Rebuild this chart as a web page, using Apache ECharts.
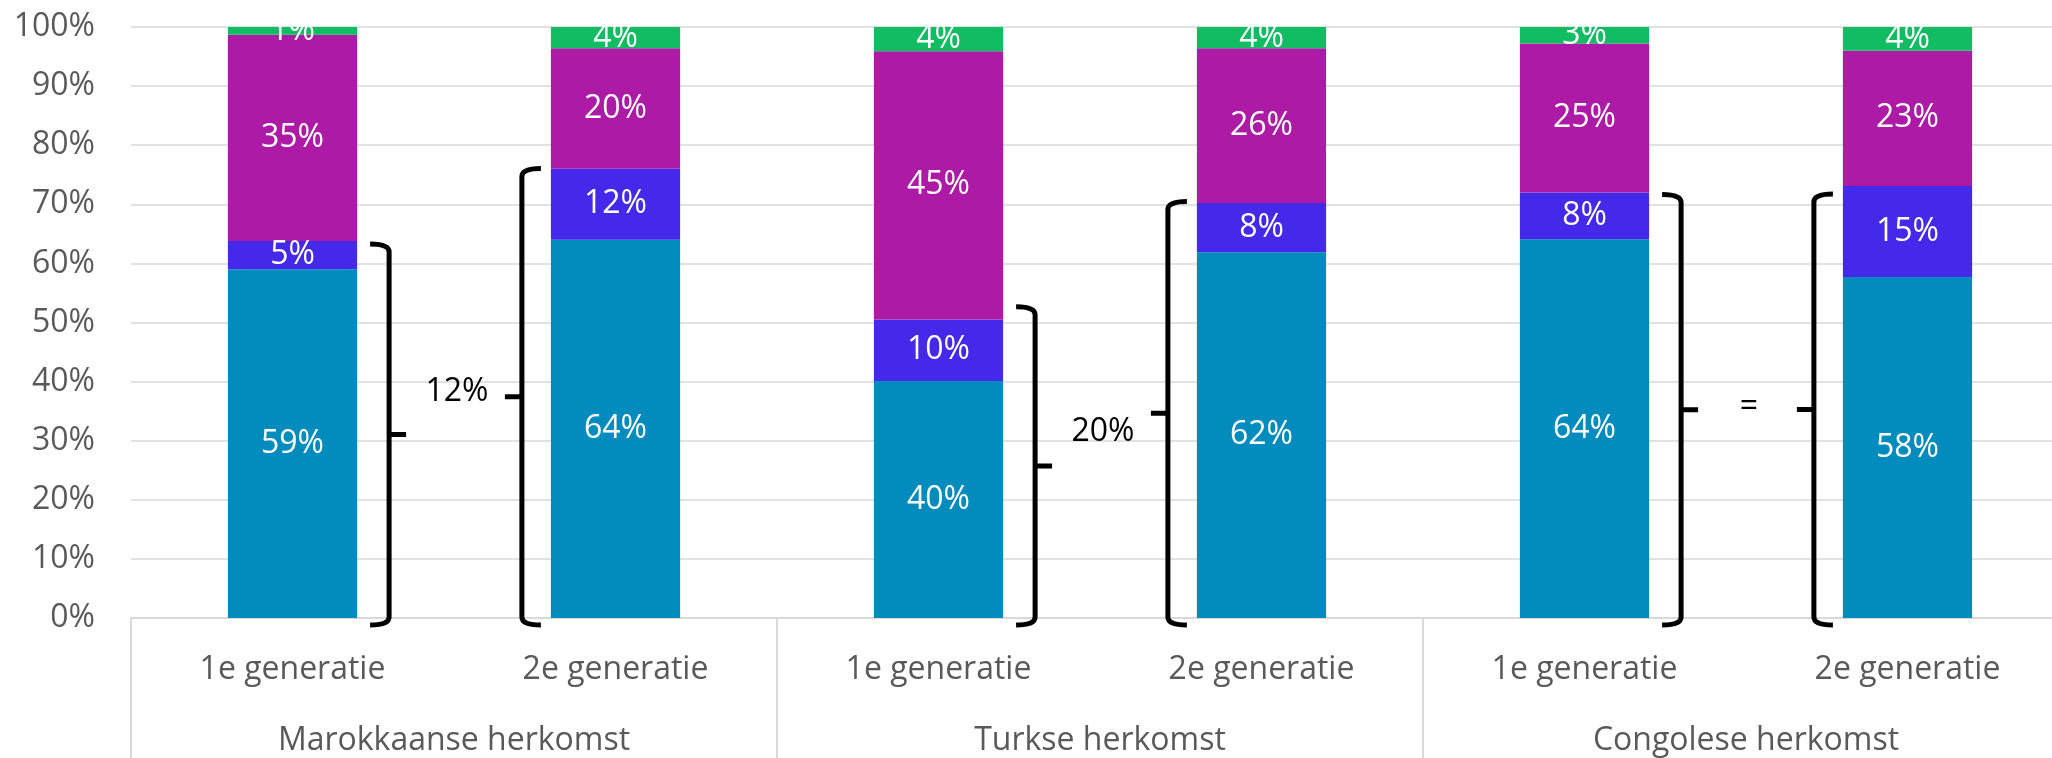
<!DOCTYPE html>
<html>
<head>
<meta charset="utf-8">
<title>Herkomst en generatie</title>
<script src="https://cdn.jsdelivr.net/npm/echarts@6/dist/echarts.min.js"></script>
<style>
  html, body { margin: 0; padding: 0; background: #fff; }
  #chart { width: 2052px; height: 758px; }
</style>
</head>
<body>
<div id="chart"></div>
<script>
// categories
var generaties = ['1e generatie', '2e generatie', '1e generatie', '2e generatie', '1e generatie', '2e generatie']
var herkomst = ['Marokkaanse herkomst', 'Turkse herkomst', 'Congolese herkomst']
var yTicks = [0, 10, 20, 30, 40, 50, 60, 70, 80, 90, 100]

// stacked shares (%), bottom to top
var deel1 = [59.0, 64.0, 40.1, 61.9, 64.1, 57.7]
var deel2 = [4.8, 12.0, 10.4, 8.3, 7.9, 15.4]
var deel3 = [34.9, 20.4, 45.4, 26.2, 25.2, 22.9]
var deel4 = [1.3, 3.6, 4.1, 3.6, 2.8, 4.0]

// brackets: top of each bracket (%), one per bar
var bracketTop = [63.6, 76.4, 53.0, 70.8, 72.0, 72.1]
// difference labels between the brackets, one per herkomst
var verschilTekst = ['12%', '20%', '=']
var verschilY = [38.3, 31.5, 35.8]

var kleuren = ['#028bbd', '#4429ea', '#ad1aa6', '#12bc63']
var font = 'Open Sans'

var chart = echarts.init(document.getElementById('chart'))

function barSerie(name, data, color) {
  return {
    name: name,
    type: 'bar',
    stack: 'totaal',
    barWidth: '40%',
    data: data,
    itemStyle: { color: color },
    label: {
      show: true,
      position: 'inside',
      color: '#fff',
      fontFamily: font,
      fontSize: 32,
      formatter: function (p) { return Math.round(p.value) + '%' }
    }
  }
}

function renderBracket(params, api) {
  var cat = api.value(0)
  var top = api.coord([cat, api.value(1)])
  var base = api.coord([cat, 0])
  var half = api.size([1, 0])[0] * 0.2
  var rechts = cat % 2 === 0
  var x = rechts ? top[0] + half + 32 : top[0] - half - 29
  var d = rechts ? -1 : 1
  var y0 = top[1] + 2
  var y1 = base[1] + 7
  var ym = (y0 + y1) / 2
  var path = 'M' + (x + d * 19) + ' ' + y0 +
    ' Q' + x + ' ' + y0 + ' ' + x + ' ' + (y0 + 8) +
    ' L' + x + ' ' + (y1 - 8) +
    ' Q' + x + ' ' + y1 + ' ' + (x + d * 19) + ' ' + y1 +
    ' M' + x + ' ' + ym + ' L' + (x - d * 17) + ' ' + ym
  return {
    type: 'path',
    shape: { pathData: path },
    style: { stroke: '#000', lineWidth: 5, fill: null }
  }
}

function renderVerschil(params, api) {
  var g = api.value(0)
  var a = api.coord([2 * g, api.value(1)])
  var b = api.coord([2 * g + 1, api.value(1)])
  return {
    type: 'text',
    style: {
      text: verschilTekst[g],
      x: (a[0] + b[0]) / 2 + 3,
      y: a[1],
      align: 'center',
      verticalAlign: 'middle',
      fontFamily: font,
      fontSize: 32,
      fill: '#000'
    }
  }
}

chart.setOption({
  animation: false,
  grid: { left: 131, top: 27, width: 1938, height: 591, outerBoundsMode: 'none' },
  xAxis: [
    {
      type: 'category',
      data: generaties,
      axisLine: { lineStyle: { color: '#d9d9d9', width: 2 } },
      axisTick: { show: false },
      axisLabel: { color: '#595959', fontFamily: font, fontSize: 32, margin: 36 }
    },
    {
      type: 'category',
      data: herkomst,
      position: 'bottom',
      axisLine: { show: false },
      axisTick: { show: true, length: 150, lineStyle: { color: '#d9d9d9', width: 2 } },
      axisLabel: { color: '#595959', fontFamily: font, fontSize: 32, margin: 107 }
    }
  ],
  yAxis: {
    type: 'value',
    min: yTicks[0],
    max: yTicks[yTicks.length - 1],
    interval: 10,
    axisLine: { show: false },
    axisTick: { show: false },
    splitLine: { lineStyle: { color: '#d9d9d9', width: 1.5 } },
    axisLabel: { color: '#595959', fontFamily: font, fontSize: 32, margin: 36, formatter: '{value}%' }
  },
  series: [
    barSerie('deel1', deel1, kleuren[0]),
    barSerie('deel2', deel2, kleuren[1]),
    barSerie('deel3', deel3, kleuren[2]),
    barSerie('deel4', deel4, kleuren[3]),
    {
      type: 'custom',
      name: 'haken',
      clip: false,
      renderItem: renderBracket,
      data: bracketTop.map(function (v, i) { return [i, v] }),
      z: 5
    },
    {
      type: 'custom',
      name: 'verschil',
      clip: false,
      renderItem: renderVerschil,
      data: verschilY.map(function (v, i) { return [i, v] }),
      z: 5
    }
  ]
})
</script>
</body>
</html>
